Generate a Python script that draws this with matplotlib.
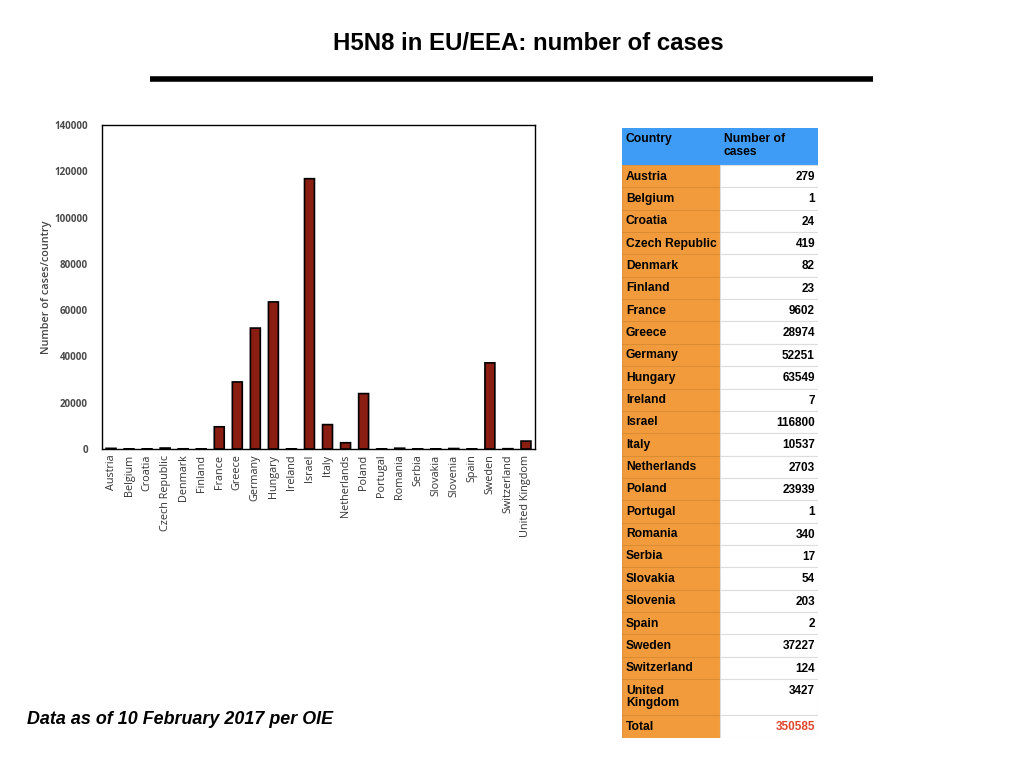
import matplotlib
matplotlib.use("Agg")
from matplotlib import pyplot as plt
from matplotlib.patches import Rectangle
import numpy as np

countries = [
    "Austria", "Belgium", "Croatia", "Czech Republic", "Denmark", "Finland",
    "France", "Greece", "Germany", "Hungary", "Ireland", "Israel", "Italy",
    "Netherlands", "Poland", "Portugal", "Romania", "Serbia", "Slovakia",
    "Slovenia", "Spain", "Sweden", "Switzerland", "United Kingdom",
]
cases = [
    279, 1, 24, 419, 82, 23, 9602, 28974, 52251, 63549, 7, 116800, 10537,
    2703, 23939, 1, 340, 17, 54, 203, 2, 37227, 124, 3427,
]
total = 350585
yticks = np.arange(0, 140001, 20000)

fig = plt.figure(figsize=(10.24, 7.68), dpi=100)
fig.patch.set_facecolor("white")

# title + rule
fig.text(0.5156, 0.944, "H5N8 in EU/EEA: number of cases", ha="center", va="center",
         fontsize=17.3, fontweight="bold", family="Liberation Sans")
fig.add_artist(plt.Line2D([150 / 1024, 873 / 1024], [1 - 79 / 768] * 2,
                          color="black", lw=4, solid_capstyle="butt",
                          transform=fig.transFigure))

# bar chart
ax = fig.add_axes([102 / 1024, 1 - 449 / 768, 433 / 1024, 324 / 768])
x = np.arange(len(countries))
bars = ax.bar(x, cases, width=0.55, color="#8B1E12", edgecolor="black",
              linewidth=1.2)
for b in bars:
    # tiny bars still show as short outline stubs
    b.set_clip_on(False)
    b.set_snap(False)
ax.set_xlim(-0.5, len(countries) - 0.5)
ax.set_ylim(0, 140000)
ax.set_yticks(yticks)
ax.set_yticklabels([str(v) for v in yticks], fontsize=7, fontweight="bold",
                   color="#4a4a4a", family="Open Sans")
ax.set_xticks(x)
ax.set_xticklabels(countries, rotation=90, fontsize=7.8, color="#333333",
                   family="Open Sans")
ax.tick_params(length=0, pad=10, axis="y")
ax.tick_params(length=0, pad=4, axis="x")
ax.set_ylabel("Number of cases/country", fontsize=7.8, color="#444444",
              family="Open Sans", fontweight="semibold", labelpad=2)
for s in ax.spines.values():
    s.set_linewidth(1)
    s.set_zorder(0.5)

# table
tab = fig.add_axes([622 / 1024, 1 - 738 / 768, 196 / 1024, 610 / 768])
tab.set_xlim(0, 196)
tab.set_ylim(610, 0)
tab.axis("off")
col_split = 98
header_h = 37
row_h = 22.35
orange = "#F19B3C"
blue = "#3F9CF6"

tab.add_patch(Rectangle((0, 0), 196, header_h, color=blue, lw=0))
tab.text(4, 5, "Country", va="top", fontsize=8.7, fontweight="bold",
         family="Liberation Sans")
tab.text(col_split + 4, 5, "Number of\ncases", va="top", fontsize=8.7,
         fontweight="bold", family="Liberation Sans", linespacing=1.1)

labels = [c if c != "United Kingdom" else "United\nKingdom" for c in countries]
labels = labels + ["Total"]
values = [str(v) for v in cases] + [str(total)]
y = header_h
for lab, val in zip(labels, values):
    h = 36 if "\n" in lab else row_h + 0.6 if lab == "Total" else row_h
    tab.add_patch(Rectangle((0, y), col_split, h, facecolor=orange,
                            edgecolor="#D88A30", lw=0.6))
    tab.add_patch(Rectangle((col_split, y), 196 - col_split, h, facecolor="white",
                            edgecolor="#DDDDDD", lw=0.8))
    tab.text(4, y + 5.5, lab, va="top", fontsize=8.7, fontweight="bold",
             family="Liberation Sans", linespacing=1.1)
    tab.text(193, y + 6, val, va="top", ha="right", fontsize=8.5, fontweight="bold",
             family="Liberation Sans",
             color="#E0462E" if lab == "Total" else "black")
    y += h

fig.text(27 / 1024, 1 - 720 / 768, "Data as of 10 February 2017 per OIE",
         fontsize=12.9, fontweight="bold", style="italic", family="Liberation Sans",
         va="center")

fig.savefig("out.png", dpi=100)
